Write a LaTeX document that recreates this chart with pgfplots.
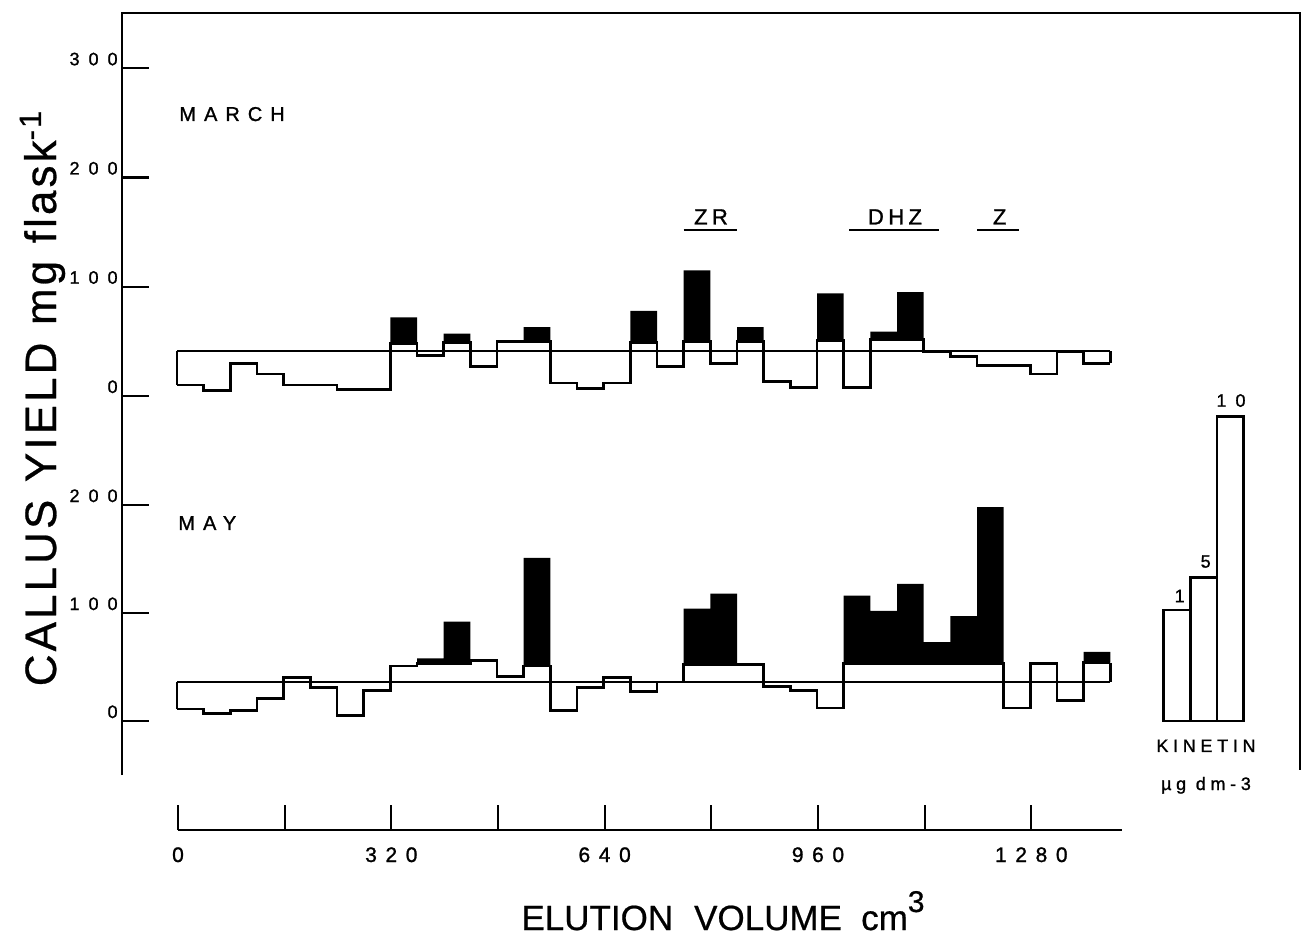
\documentclass[border=0pt]{standalone}
\usepackage{pgfplots}
\pgfplotsset{compat=1.18}
\usepackage{pgfplotstable}
\usepgfplotslibrary{fillbetween}
\usepackage{fontspec}
\setmainfont[FakeBold=0.6]{Liberation Sans}
\newfontfamily\tickfamily[LetterSpace=50,FakeBold=1.2]{Liberation Sans}
\newfontfamily\xtickfamily[LetterSpace=41,FakeBold=1.2]{Liberation Sans}
\newfontfamily\monthfamily[LetterSpace=40,FakeBold=1.2]{Liberation Sans}
\newfontfamily\peakfamily[LetterSpace=20,FakeBold=1.2]{Liberation Sans}
\newfontfamily\kinfamily[LetterSpace=26,FakeBold=1.2]{Liberation Sans}
\newfontfamily\ytitlefamily[LetterSpace=7,FakeBold=0.6]{Liberation Sans}
\newcommand\tickfont{\tickfamily\fontsize{9}{9}\selectfont}
\newcommand\xtickfont{\xtickfamily\fontsize{10.5}{10.5}\selectfont}

% fraction start (cm3), callus yield of the step trace, top of the black bar
\pgfplotstableread{
x    out top
0    10  10
40   5   5
80   30  30
120  20  20
160  10  10
200  10  10
240  6   6
280  6   6
320  48  72
360  37  37
400  49  57
440  27  27
480  50  50
520  50  63
560  12  12
600  7   7
640  12  12
680  49  78
720  27  27
760  50  115
800  30  30
840  50  63
880  13  13
920  8   8
960  51  94
1000 8   8
1040 52  59
1080 52  95
1120 41  41
1160 36  36
1200 28  28
1240 28  28
1280 20  20
1320 41  41
1360 30  30
1400 30  30
}\march

\pgfplotstableread{
x    out top
0    11  11
40   7   7
80   10  10
120  21  21
160  40  40
200  31  31
240  5   5
280  28  28
320  51  51
360  53  58
400  53  92
440  56  56
480  41  41
520  51  151
560  10  10
600  31  31
640  40  40
680  27  27
720  36  36
760  52  104
800  52  118
840  52  52
880  32  32
920  28  28
960  12  12
1000 53  116
1040 53  102
1080 53  127
1120 53  73
1160 53  97
1200 53  198
1240 12  12
1280 53  53
1320 19  19
1360 54  64
1400 54  64
}\may

% kinetin standards (1, 5, 10 ug dm-3)
\pgfplotstableread{
x    y
1480 103
1520 133
1560 282
1600 282
}\kinetin

\pgfplotsset{
  panel/.style={
    scale only axis, clip=false, anchor=south west,
    width=589pt, xmin=-82.5, xmax=1684.5,
    axis x line=none, axis y line*=left,
    y axis line style={line width=1pt,-},
    xtick=\empty,
    tick align=inside, major tick length=13.5pt,
    ytick style={line width=1.2pt,black},
    yticklabel style={font=\tickfont, anchor=base east, inner sep=0pt,
      xshift=-2pt, yshift=1.5pt},
  },
  trace/.style={line width=1.35pt, black},
}

\begin{document}
\begin{tikzpicture}
\path (0pt,0pt) rectangle (653.5pt,469pt);

% outer frame (top and right; the left side is the y axes)
\draw[line width=1pt] (61pt,462.5pt) -- (650pt,462.5pt) -- (650pt,84pt);

% ---------------- MARCH ----------------
\begin{axis}[panel, at={(61pt,249pt)}, height=214pt,
  ymin=-40.3, ymax=351.5,
  ytick={0,100,200,300}, yticklabels={0\hspace{4pt},100,200,300}]
\addplot[const plot, draw=none, name path=mtop] table[x=x,y=top]{\march};
\addplot[const plot, draw=none, name path=mout] table[x=x,y=out]{\march};
\addplot[fill=black, draw=none] fill between[of=mtop and mout];
\addplot[line width=1.2pt, black] coordinates {(0,41) (1400,41)};
\addplot[const plot, trace] table[x=x,y=out]{\march};
\addplot[trace] coordinates {(0,41) (0,10)};
\addplot[trace] coordinates {(1400,30) (1400,41)};
% elution positions of the standards
\draw[line width=1.3pt] (axis cs:760,152) -- (axis cs:840,152);
\draw[line width=1.3pt] (axis cs:1008,152) -- (axis cs:1143,152);
\draw[line width=1.3pt] (axis cs:1200,152) -- (axis cs:1263,152);
\node[anchor=base, font=\peakfamily\fontsize{11}{11}\selectfont] at (axis cs:801,157) {ZR};
\node[anchor=base, font=\peakfamily\fontsize{11}{11}\selectfont] at (axis cs:1077,157) {DHZ};
\node[anchor=base, font=\peakfamily\fontsize{11}{11}\selectfont] at (axis cs:1234,157) {Z};
\end{axis}

% ---------------- MAY ----------------
\begin{axis}[panel, at={(61pt,81.5pt)}, height=167.5pt,
  ymin=-50, ymax=260.2,
  ytick={0,100,200}, yticklabels={0\hspace{4pt},100,200}]
\addplot[const plot, draw=none, name path=ytop] table[x=x,y=top]{\may};
\addplot[const plot, draw=none, name path=yout] table[x=x,y=out]{\may};
\addplot[fill=black, draw=none] fill between[of=ytop and yout];
\addplot[line width=1.2pt, black] coordinates {(0,36) (1400,36)};
\addplot[const plot, trace] table[x=x,y=out]{\may};
\addplot[trace] coordinates {(0,36) (0,11)};
\addplot[trace] coordinates {(1400,54) (1400,36)};
% kinetin standards
\addplot[ybar interval, fill=white, draw=black, line width=1.2pt] table[x=x,y=y]{\kinetin};
\node[anchor=base, font=\tickfont] at (axis cs:1504,110) {1};
\node[anchor=base, font=\tickfont] at (axis cs:1543,142) {5};
\node[anchor=base, font=\tickfont] at (axis cs:1581,291) {10};
\end{axis}

% ---------------- elution volume axis ----------------
\begin{axis}[scale only axis, at={(89pt,54pt)}, anchor=south west,
  width=472pt, height=15pt,
  xmin=0, xmax=1416, ymin=0, ymax=1,
  axis x line=bottom, axis y line=none,
  x axis line style={line width=1.2pt,-},
  xtick={0,320,640,960,1280}, xticklabels={0,320,640,960,1280},
  minor xtick={160,480,800,1120},
  tick align=inside, major tick length=12.5pt, minor tick length=12.5pt,
  xtick style={line width=0.9pt,black},
  xticklabel style={font=\xtickfont, anchor=base, inner sep=0pt, yshift=-16pt}]
\addplot[draw=none] coordinates {(0,0) (1416,0)};
\end{axis}

% panel names
\node[anchor=base west, inner sep=0pt, font=\monthfamily\fontsize{10}{10}\selectfont] at (89.5pt,408.5pt) {MARCH};
\node[anchor=base west, inner sep=0pt, font=\monthfamily\fontsize{10}{10}\selectfont] at (89pt,204pt) {MAY};

% kinetin caption
\node[anchor=base, font=\kinfamily\fontsize{9}{9}\selectfont] at (603pt,93pt) {KINETIN};
\node[anchor=base, font=\kinfamily\fontsize{9}{9}\selectfont] at (603pt,74pt) {µg dm-3};

% axis titles
\node[anchor=base, rotate=90, font=\ytitlefamily\fontsize{22}{22}\selectfont] at (28pt,270pt)
  {CALLUS\hspace{0.4em}YIELD\hspace{0.4em}mg\hspace{0.4em}flask\textsuperscript{-1}};
\node[anchor=base, font=\fontsize{17.5}{17.5}\selectfont] at (361.5pt,4pt)
  {ELUTION\hspace{0.6em}VOLUME\hspace{0.55em}cm\raisebox{9pt}{\fontsize{15}{15}\selectfont 3}};
\end{tikzpicture}
\end{document}
